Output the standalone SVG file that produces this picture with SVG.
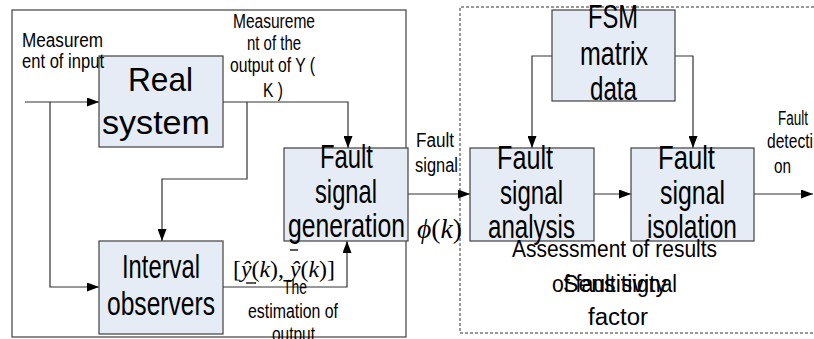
<svg xmlns="http://www.w3.org/2000/svg" width="814" height="339" viewBox="0 0 814 339">
<defs>
<marker id="ah" markerUnits="userSpaceOnUse" markerWidth="12" markerHeight="9" refX="12" refY="4.5" orient="auto">
<path d="M0,0 L12,4.5 L0,9 z" fill="#000"/>
</marker>
<style>
.box{fill:#e6ecf5;stroke:#404040;stroke-width:1.2}
.frame{fill:none;stroke:#404040;stroke-width:1.2}
.dash{fill:none;stroke:#333;stroke-width:1;stroke-dasharray:3,2}
.ln{fill:none;stroke:#333;stroke-width:1.2}
.arr{marker-end:url(#ah)}
.big{font-family:"Liberation Sans",Arial,sans-serif;font-size:33px;fill:#000;text-anchor:start}
.sm{font-family:"Liberation Sans",Arial,sans-serif;font-size:20px;fill:#000;text-anchor:start}
.md{font-family:"Liberation Sans",Arial,sans-serif;font-size:23px;fill:#000;text-anchor:start}
.math{font-family:"Liberation Serif","Times New Roman",serif;fill:#000}
</style>
</defs>
<rect width="814" height="339" fill="#fff"/>
<rect class="frame" x="12" y="10" width="394" height="327"/>
<path class="dash" d="M814,7 H460 V333 H814"/>

<g id="connectors">
<path class="ln arr" d="M25,102 H99"/>
<path class="ln arr" d="M50,102 V287 H99"/>
<path class="ln arr" d="M223,102 H348 V148"/>
<path class="ln arr" d="M247,102 V179 H162 V241"/>
<path class="ln arr" d="M223,287 H347 V241"/>
<path class="ln arr" d="M408,194 H470"/>
<path class="ln arr" d="M552,56 H532 V148"/>
<path class="ln arr" d="M675,56 H693 V148"/>
<path class="ln arr" d="M594,194 H631"/>
<path class="ln arr" d="M754,194 H813"/>
</g>

<g id="real-system">
<rect class="box" x="99" y="56" width="124" height="91"/>
<text class="big" x="128" y="91" textLength="65" lengthAdjust="spacingAndGlyphs">Real</text>
<text class="big" x="102" y="134" textLength="108" lengthAdjust="spacingAndGlyphs">system</text>
</g>

<g id="interval-observers">
<rect class="box" x="99" y="241" width="124" height="93"/>
<text class="big" x="122" y="278" textLength="78" lengthAdjust="spacingAndGlyphs">Interval</text>
<text class="big" x="107" y="315" textLength="108" lengthAdjust="spacingAndGlyphs">observers</text>
</g>

<g id="fault-signal-generation">
<rect class="box" x="284" y="148" width="124" height="93"/>
<text class="big" x="320" y="168" textLength="53" lengthAdjust="spacingAndGlyphs">Fault</text>
<text class="big" x="315" y="203" textLength="62" lengthAdjust="spacingAndGlyphs">signal</text>
<text class="big" x="288" y="237" textLength="117" lengthAdjust="spacingAndGlyphs">generation</text>
</g>

<g id="fsm-matrix-data">
<rect class="box" x="552" y="10" width="123" height="91"/>
<text class="big" x="588" y="28" textLength="50" lengthAdjust="spacingAndGlyphs">FSM</text>
<text class="big" x="580" y="65" textLength="68" lengthAdjust="spacingAndGlyphs">matrix</text>
<text class="big" x="590" y="100" textLength="47" lengthAdjust="spacingAndGlyphs">data</text>
</g>

<g id="fault-signal-analysis">
<rect class="box" x="470" y="148" width="124" height="93"/>
<text class="big" x="497" y="169" textLength="56" lengthAdjust="spacingAndGlyphs">Fault</text>
<text class="big" x="500" y="204" textLength="63" lengthAdjust="spacingAndGlyphs">signal</text>
<text class="big" x="488" y="238" textLength="87" lengthAdjust="spacingAndGlyphs">analysis</text>
</g>

<g id="fault-signal-isolation">
<rect class="box" x="631" y="148" width="123" height="93"/>
<text class="big" x="658" y="169" textLength="57" lengthAdjust="spacingAndGlyphs">Fault</text>
<text class="big" x="660" y="204" textLength="65" lengthAdjust="spacingAndGlyphs">signal</text>
<text class="big" x="647" y="238" textLength="90" lengthAdjust="spacingAndGlyphs">isolation</text>
</g>

<g id="labels">
<text class="sm" x="22" y="47" textLength="81" lengthAdjust="spacingAndGlyphs">Measurem</text>
<text class="sm" x="22" y="68" textLength="82" lengthAdjust="spacingAndGlyphs">ent of input</text>
<text class="sm" x="233" y="28" textLength="82" lengthAdjust="spacingAndGlyphs">Measureme</text>
<text class="sm" x="247" y="50" textLength="54" lengthAdjust="spacingAndGlyphs">nt of the</text>
<text class="sm" x="230" y="72" textLength="85" lengthAdjust="spacingAndGlyphs">output of Y (</text>
<text class="sm" x="263" y="97" textLength="20" lengthAdjust="spacingAndGlyphs">K )</text>
<text class="sm" x="416" y="147" textLength="38" lengthAdjust="spacingAndGlyphs">Fault</text>
<text class="sm" x="415" y="172" textLength="43" lengthAdjust="spacingAndGlyphs">signal</text>
<text class="math" x="417" y="238" font-size="27" textLength="45" lengthAdjust="spacingAndGlyphs"><tspan font-style="italic">ϕ</tspan>(<tspan font-style="italic">k</tspan>)</text>
<text class="math" x="233" y="277" font-size="23" textLength="102" lengthAdjust="spacingAndGlyphs">[<tspan font-style="italic">ŷ</tspan>(<tspan font-style="italic">k</tspan>), <tspan font-style="italic">ŷ</tspan>(<tspan font-style="italic">k</tspan>)]</text>
<line x1="246" y1="283" x2="256" y2="283" stroke="#000" stroke-width="1.3"/>
<line x1="290" y1="250" x2="298" y2="250" stroke="#000" stroke-width="1.3"/>
<text class="sm" x="283" y="294" textLength="24" lengthAdjust="spacingAndGlyphs">The</text>
<text class="sm" x="248" y="318" textLength="90" lengthAdjust="spacingAndGlyphs">estimation of</text>
<text class="sm" x="272" y="341" textLength="43" lengthAdjust="spacingAndGlyphs">output</text>
<text class="sm" x="778" y="125" textLength="30" lengthAdjust="spacingAndGlyphs">Fault</text>
<text class="sm" x="767" y="148" textLength="46" lengthAdjust="spacingAndGlyphs">detecti</text>
<text class="sm" x="774" y="173" textLength="17" lengthAdjust="spacingAndGlyphs">on</text>
<text class="md" x="512" y="257" textLength="205" lengthAdjust="spacingAndGlyphs">Assessment of results</text>
<text class="md" x="552" y="292" textLength="125" lengthAdjust="spacingAndGlyphs">of fault signal</text>
<text class="md" x="563" y="292" font-size="26" textLength="104" lengthAdjust="spacingAndGlyphs">Sensitivity</text>
<text class="md" x="588" y="325" font-size="26" textLength="60" lengthAdjust="spacingAndGlyphs">factor</text>
</g>
</svg>
